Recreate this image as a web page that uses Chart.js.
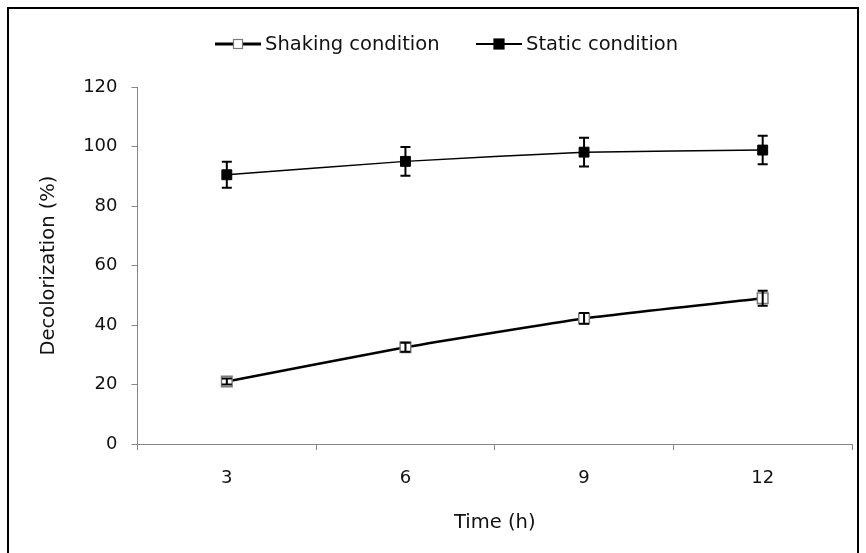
<!DOCTYPE html>
<html>
<head>
<meta charset="utf-8">
<script src="https://cdn.jsdelivr.net/npm/chart.js@4"></script>
<style>
  html, body { margin: 0; padding: 0; background: #fff; }
  #wrap { width: 866px; height: 553px; position: relative; }
</style>
</head>
<body>
<div id="wrap"><canvas id="decolChart" width="866" height="553"></canvas></div>
<script>
// data
const timeLabels = ['3', '6', '9', '12'];
const shakingValues = [21, 32.5, 42.2, 49];
const shakingErrors = [1.0, 1.5, 1.8, 2.5];
const staticValues = [90.5, 95, 98.1, 98.8];
const staticErrors = [4.4, 4.8, 4.8, 4.8];
const yTicks = [0, 20, 40, 60, 80, 100, 120];

const FONT = '"DejaVu Sans", "Liberation Sans", Arial, sans-serif';
const AXIS_GREY = '#868686';

// vertical error bars with caps, drawn through the chart's own y scale
const errorBars = {
    id: 'errorBars',
    afterDatasetsDraw(chart) {
        const ctx = chart.ctx;
        const y = chart.scales.y;
        chart.data.datasets.forEach((ds, i) => {
            const meta = chart.getDatasetMeta(i);
            meta.data.forEach((pt, j) => {
                const v = ds.data[j];
                const e = ds.errors[j];
                const top = y.getPixelForValue(v + e);
                const bot = y.getPixelForValue(v - e);
                ctx.save();
                ctx.strokeStyle = '#000';
                ctx.lineWidth = 2;
                ctx.beginPath();
                ctx.moveTo(pt.x, top); ctx.lineTo(pt.x, bot);
                ctx.moveTo(pt.x - 5, top); ctx.lineTo(pt.x + 5, top);
                ctx.moveTo(pt.x - 5, bot); ctx.lineTo(pt.x + 5, bot);
                ctx.stroke();
                ctx.restore();
            });
        });
    }
};

// legend with line + marker samples, and the outer frame
const legendAndFrame = {
    id: 'legendAndFrame',
    afterDraw(chart) {
        const ctx = chart.ctx;
        ctx.save();
        ctx.strokeStyle = '#000';
        ctx.lineWidth = 2;
        ctx.strokeRect(8, 8, 850, 560);

        const items = [
            { x: 215, ds: chart.data.datasets[0], s: 9 },
            { x: 476, ds: chart.data.datasets[1], s: 10 }
        ];
        const ly = 44;
        items.forEach(it => {
            ctx.strokeStyle = '#000';
            ctx.lineWidth = it.ds.borderWidth + 0.5;
            ctx.beginPath();
            ctx.moveTo(it.x, ly); ctx.lineTo(it.x + 46, ly);
            ctx.stroke();
            const s = it.s;
            ctx.fillStyle = it.ds.pointBackgroundColor;
            ctx.fillRect(it.x + 23 - s / 2, ly - s / 2, s, s);
            ctx.strokeStyle = it.ds.pointBorderColor;
            ctx.lineWidth = 1.2;
            ctx.strokeRect(it.x + 23 - s / 2, ly - s / 2, s, s);
            ctx.fillStyle = '#111';
            ctx.font = '19.5px ' + FONT;
            ctx.textBaseline = 'middle';
            ctx.textAlign = 'left';
            ctx.fillText(it.ds.label, it.x + 50, ly + 1);
        });
        ctx.restore();
    }
};

const ctx = document.getElementById('decolChart').getContext('2d');

new Chart(ctx, {
    type: 'line',
    data: {
        labels: timeLabels,
        datasets: [
            {
                label: 'Shaking condition',
                data: shakingValues,
                errors: shakingErrors,
                borderColor: '#000',
                borderWidth: 2.5,
                pointStyle: 'rect',
                pointRadius: 7.5,
                pointBackgroundColor: '#fff',
                pointBorderColor: '#7a7a7a',
                pointBorderWidth: 1.5,
                tension: 0.15
            },
            {
                label: 'Static condition',
                data: staticValues,
                errors: staticErrors,
                borderColor: '#000',
                borderWidth: 1.5,
                pointStyle: 'rect',
                pointRadius: 7,
                pointBackgroundColor: '#000',
                pointBorderColor: '#000',
                pointBorderWidth: 1,
                tension: 0.15
            }
        ]
    },
    options: {
        responsive: false,
        animation: false,
        layout: {
            padding: { left: 33, top: 87, right: 14, bottom: 14 }
        },
        plugins: {
            legend: { display: false },
            tooltip: { enabled: false }
        },
        scales: {
            x: {
                offset: true,
                grid: {
                    offset: true,
                    drawOnChartArea: false,
                    tickLength: 6,
                    color: AXIS_GREY
                },
                border: { color: AXIS_GREY, width: 1 },
                ticks: {
                    color: '#111',
                    padding: 18,
                    maxRotation: 0,
                    font: { family: FONT, size: 18 }
                },
                title: {
                    display: true,
                    text: 'Time (h)',
                    color: '#111',
                    font: { family: FONT, size: 19.5 }
                },
                afterFit(scale) { scale.height = 95; }
            },
            y: {
                min: 0,
                max: 120,
                afterBuildTicks(scale) {
                    scale.ticks = yTicks.map(v => ({ value: v }));
                },
                grid: {
                    drawOnChartArea: false,
                    tickLength: 6,
                    color: AXIS_GREY
                },
                border: { color: AXIS_GREY, width: 1 },
                ticks: {
                    color: '#111',
                    padding: 14,
                    font: { family: FONT, size: 18 }
                },
                title: {
                    display: true,
                    text: 'Decolorization (%)',
                    color: '#111',
                    font: { family: FONT, size: 19.5 }
                },
                afterFit(scale) { scale.width = 104.5; }
            }
        }
    },
    plugins: [errorBars, legendAndFrame]
});
</script>
</body>
</html>
